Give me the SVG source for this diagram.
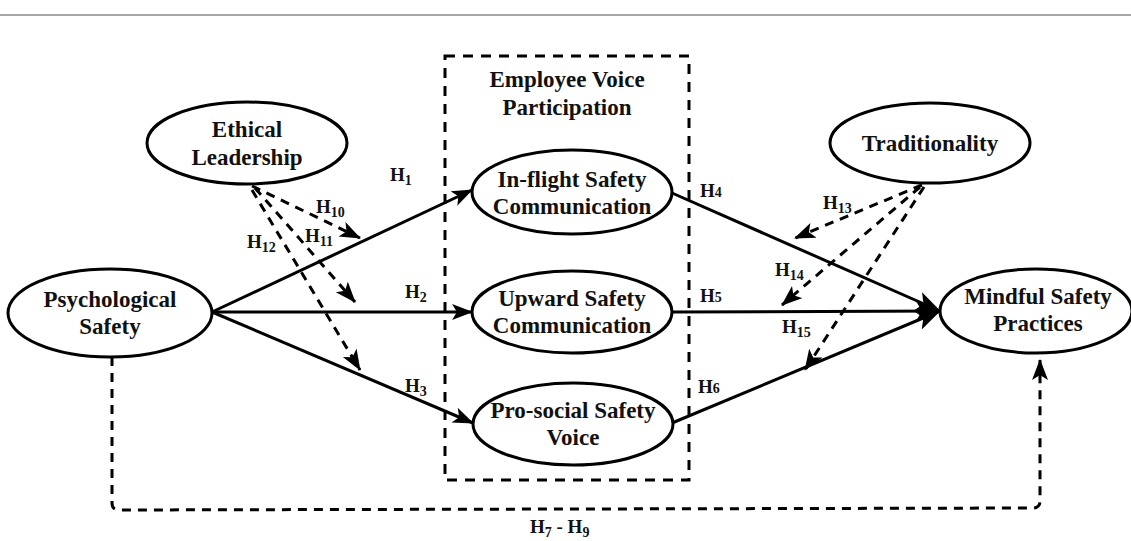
<svg xmlns="http://www.w3.org/2000/svg" width="1131" height="541" viewBox="0 0 1131 541">
<style>
.n{fill:#fff;stroke:#000;stroke-width:3}
.t{font-family:"Liberation Serif","Times New Roman",serif;font-weight:bold;font-size:23px;text-anchor:middle;fill:#111}
.s{stroke:#000;stroke-width:3;fill:none}
.d{stroke:#000;stroke-width:3;fill:none;stroke-dasharray:9,7}
.box{stroke:#000;stroke-width:3;fill:none;stroke-dasharray:10,8}
.l{font-family:"Liberation Serif","Times New Roman",serif;font-weight:bold;font-size:19px;fill:#111}
.sub{font-size:14px}
</style>
<defs>
<marker id="a" markerUnits="userSpaceOnUse" markerWidth="22" markerHeight="18" refX="20" refY="8" orient="auto">
<path d="M0,0 L21,8 L0,16 L5,8 z" fill="#000"/>
</marker>
<marker id="b" markerUnits="userSpaceOnUse" markerWidth="26" markerHeight="22" refX="24" refY="10" orient="auto">
<path d="M0,0 L25,10 L0,20 L6,10 z" fill="#000"/>
</marker>
</defs>
<rect width="1131" height="541" fill="#fff"/>
<line x1="0" y1="15" x2="1131" y2="15" stroke="#888" stroke-width="1.5"/>

<g id="voice-box">
<rect class="box" x="445" y="56" width="244" height="424"/>
<text class="t" x="567" y="87">Employee Voice</text>
<text class="t" x="567" y="115">Participation</text>
</g>

<g id="connectors">
<path class="s" d="M212,312 L472,190" marker-end="url(#a)"/>
<path class="s" d="M212,312 L472,312" marker-end="url(#a)"/>
<path class="s" d="M212,312 L473,423" marker-end="url(#a)"/>
<path class="s" d="M672,193 L940,311" marker-end="url(#b)"/>
<path class="s" d="M672,312 L940,311" marker-end="url(#b)"/>
<path class="s" d="M672,423 L940,311" marker-end="url(#b)"/>
<path class="d" d="M252,186 L360,238" marker-end="url(#a)"/>
<path class="d" d="M255,188 L355,302" marker-end="url(#a)"/>
<path class="d" d="M252,190 L360,370" marker-end="url(#a)"/>
<path class="d" d="M922,185 L795,238" marker-end="url(#a)"/>
<path class="d" d="M920,187 L782,305" marker-end="url(#a)"/>
<path class="d" d="M924,187 L805,370" marker-end="url(#a)"/>
<path class="d" d="M112,357 L112,503 Q112,510 119,510 L1033,508 Q1040,508 1040,501 L1040,360" marker-end="url(#a)"/>
<text class="l" x="390" y="181">H<tspan class="sub" dy="4">1</tspan></text>
<text class="l" x="405" y="298">H<tspan class="sub" dy="4">2</tspan></text>
<text class="l" x="405" y="392">H<tspan class="sub" dy="4">3</tspan></text>
<text class="l" x="700" y="197">H<tspan style="font-size:14px">4</tspan></text>
<text class="l" x="700" y="302">H<tspan style="font-size:14px">5</tspan></text>
<text class="l" x="698" y="393">H<tspan style="font-size:14px">6</tspan></text>
<text class="l" x="316" y="213">H<tspan class="sub" dy="4">10</tspan></text>
<text class="l" x="305" y="242">H<tspan class="sub" dy="4">11</tspan></text>
<text class="l" x="247" y="248">H<tspan class="sub" dy="4">12</tspan></text>
<text class="l" x="823" y="209">H<tspan class="sub" dy="4">13</tspan></text>
<text class="l" x="775" y="276">H<tspan class="sub" dy="4">14</tspan></text>
<text class="l" x="782" y="333">H<tspan class="sub" dy="4">15</tspan></text>
<text class="l" x="530" y="533">H<tspan class="sub" dy="4">7</tspan><tspan dy="-4"> - H</tspan><tspan class="sub" dy="4">9</tspan></text>
</g>

<g id="ethical-leadership">
<ellipse class="n" cx="247" cy="143" rx="100" ry="41"/>
<text class="t" x="247" y="137">Ethical</text>
<text class="t" x="247" y="165">Leadership</text>
</g>
<g id="psychological-safety">
<ellipse class="n" cx="110" cy="313" rx="102" ry="44"/>
<text class="t" x="110" y="307">Psychological</text>
<text class="t" x="110" y="334">Safety</text>
</g>
<g id="inflight">
<ellipse class="n" cx="572" cy="192" rx="100" ry="42"/>
<text class="t" x="572" y="187">In-flight Safety</text>
<text class="t" x="572" y="214">Communication</text>
</g>
<g id="upward">
<ellipse class="n" cx="572" cy="312" rx="100" ry="41"/>
<text class="t" x="572" y="306">Upward Safety</text>
<text class="t" x="572" y="333">Communication</text>
</g>
<g id="prosocial">
<ellipse class="n" cx="573" cy="424" rx="100" ry="41"/>
<text class="t" x="573" y="418">Pro-social Safety</text>
<text class="t" x="573" y="445">Voice</text>
</g>
<g id="traditionality">
<ellipse class="n" cx="930" cy="143" rx="100" ry="40"/>
<text class="t" x="930" y="151">Traditionality</text>
</g>
<g id="mindful">
<ellipse class="n" cx="1036" cy="311" rx="96" ry="42"/>
<text class="t" x="1038" y="304">Mindful Safety</text>
<text class="t" x="1038" y="331">Practices</text>
</g>
</svg>
